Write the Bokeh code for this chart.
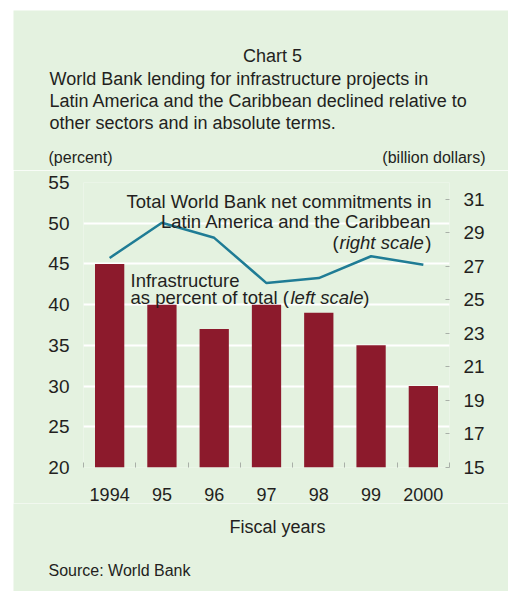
from bokeh.plotting import figure
from bokeh.layouts import column
from bokeh.models import Range1d, LinearAxis, FixedTicker, Label
from bokeh.embed import file_html
from bokeh.resources import INLINE

# ---- data ----
years = ["1994", "95", "96", "97", "98", "99", "2000"]
infra_pct = [45, 40, 37, 40, 39, 35, 30]                 # left scale, percent
commit_bn = [27.5, 29.6, 28.7, 26.0, 26.3, 27.6, 27.1]   # right scale, billion dollars
left_ticks = [20, 25, 30, 35, 40, 45, 50, 55]
right_ticks = [15, 17, 19, 21, 23, 25, 27, 29, 31]

BG = "#e4f2e0"
BAR = "#8c1a2c"
LINE = "#1f7c95"
TXT = "#231f20"
TICK = "#a9b0a8"
FONT = "Liberation Sans"

W = 495               # panel width (page x 13 .. 508)
PX0, PY0 = 13, 10     # page position of the panel
HDR_BOTTOM = 170      # page y where header ends
MAIN_BOTTOM = 503     # page y where main chart ends
PAGE_BOTTOM = 591
FRAME_LEFT, FRAME_RIGHT, FRAME_TOP, FRAME_BOTTOM = 83, 449, 182, 467


def text_panel(y_top, y_bottom):
    f = figure(width=W, height=y_bottom - y_top, output_backend="svg",
               toolbar_location=None, x_axis_location=None, y_axis_location=None,
               x_range=Range1d(PX0, PX0 + W), y_range=Range1d(y_bottom, y_top),
               min_border=0, background_fill_color=BG, border_fill_color=BG,
               outline_line_color=None)
    f.title = None
    f.frame_align = False
    f.xgrid.visible = False
    f.ygrid.visible = False
    return f


def plbl(fig, text, px, py, size="18px", align="left", style="normal"):
    fig.add_layout(Label(x=px, y=py, text=text, text_align=align,
                         text_baseline="alphabetic", text_font=FONT,
                         text_font_size=size, text_font_style=style, text_color=TXT))


# ---- header ----
hdr = text_panel(PY0, HDR_BOTTOM)
plbl(hdr, "Chart 5", 272, 55, align="center")
plbl(hdr, "World Bank lending for infrastructure projects in", 49, 78)
plbl(hdr, "Latin America and the Caribbean declined relative to", 49, 100)
plbl(hdr, "other sectors and in absolute terms.", 49, 122)
plbl(hdr, "(percent)", 48, 157, size="16px")
plbl(hdr, "(billion dollars)", 485, 157, size="16px", align="right")

# ---- main chart ----
xs = list(range(1, len(years) + 1))
p = figure(width=W, height=MAIN_BOTTOM - HDR_BOTTOM, output_backend="svg",
           toolbar_location=None,
           x_range=Range1d(0.5, len(years) + 0.5),
           y_range=Range1d(left_ticks[0], left_ticks[-1]),
           min_border_left=FRAME_LEFT - PX0, min_border_right=PX0 + W - FRAME_RIGHT,
           min_border_top=FRAME_TOP - HDR_BOTTOM, min_border_bottom=MAIN_BOTTOM - FRAME_BOTTOM,
           background_fill_color=BG, border_fill_color=BG,
           outline_line_color=None)
p.title = None
p.frame_align = False
p.extra_y_ranges = {"right": Range1d(right_ticks[0], 32)}

xa = p.xaxis[0]
xa.ticker = FixedTicker(ticks=xs, minor_ticks=[i + 0.5 for i in range(len(years) + 1)])
xa.major_label_overrides = {i: y for i, y in zip(xs, years)}
xa.major_tick_line_color = None
xa.minor_tick_in = 5
xa.minor_tick_out = 0
xa.minor_tick_line_color = TICK
xa.axis_line_color = None
xa.major_label_text_font = FONT
xa.major_label_text_font_size = "18px"
xa.major_label_text_color = TXT
xa.major_label_standoff = 14

ya = p.yaxis[0]
ya.ticker = FixedTicker(ticks=left_ticks)
ya.major_tick_line_color = None
ya.minor_tick_line_color = None
ya.axis_line_color = None
ya.major_label_text_font = FONT
ya.major_label_text_font_size = "19px"
ya.major_label_text_color = TXT
ya.major_label_standoff = 8

ra = LinearAxis(y_range_name="right", ticker=FixedTicker(ticks=right_ticks))
ra.major_tick_in = 4
ra.major_tick_out = 0
ra.major_tick_line_color = TICK
ra.minor_tick_line_color = None
ra.axis_line_color = None
ra.major_label_text_font = FONT
ra.major_label_text_font_size = "19px"
ra.major_label_text_color = TXT
ra.major_label_standoff = 14
p.add_layout(ra, "right")

p.xgrid.visible = False
p.ygrid.ticker = FixedTicker(ticks=left_ticks[1:-1])
p.ygrid.grid_line_color = "white"
p.ygrid.grid_line_width = 2

p.vbar(x=xs, top=infra_pct, bottom=left_ticks[0], width=0.56,
       fill_color=BAR, line_color=None)
p.line(xs, commit_bn, y_range_name="right", line_color=LINE, line_width=2.5)


def lbl(text, px, py, size="18.5px", align="left", style="normal"):
    p.add_layout(Label(x=px - FRAME_LEFT, y=FRAME_BOTTOM - py,
                       x_units="screen", y_units="screen",
                       text=text, text_align=align, text_baseline="alphabetic",
                       text_font=FONT, text_font_size=size, text_font_style=style,
                       text_color=TXT))


lbl("Total World Bank net commitments in", 431, 201, align="right")
lbl("Latin America and the Caribbean", 431, 221, align="right")
lbl("(", 332, 242)
lbl("right scale", 339, 242, style="italic")
lbl(")", 431, 242, align="right")

lbl("Infrastructure", 130, 280)
lbl("as percent of total (", 130, 297)
lbl("left scale", 290, 297, style="italic")
lbl(")", 369, 297, align="right")

# ---- footer ----
ftr = text_panel(MAIN_BOTTOM, PAGE_BOTTOM)
plbl(ftr, "Fiscal years", 277, 526, align="center")
plbl(ftr, "Source: World Bank", 48, 570, size="16px")

layout = column(hdr, p, ftr, spacing=0)
layout.margin = (PY0, 0, 0, PX0)

open("out.html", "w").write(file_html(layout, INLINE))
